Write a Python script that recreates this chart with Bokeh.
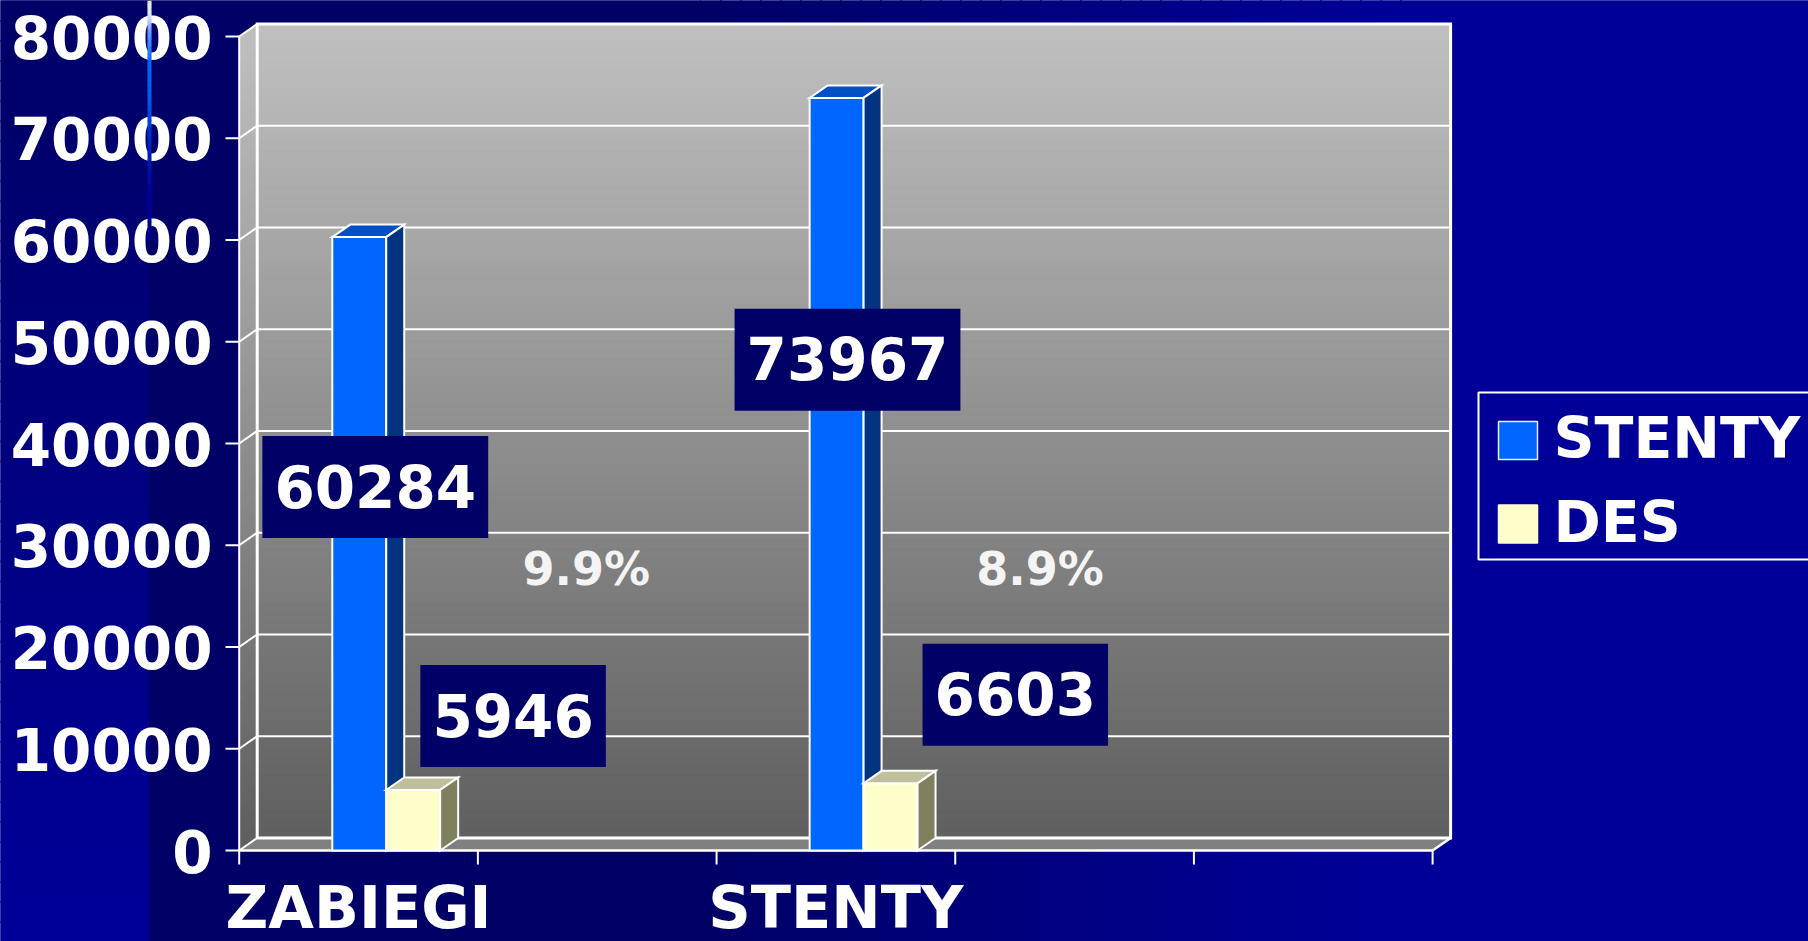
import numpy as np
from bokeh.plotting import figure
from bokeh.models import Range1d
from bokeh.core.properties import value
from bokeh.embed import file_html
from bokeh.resources import INLINE

# ---------------- data ----------------
categories = ["ZABIEGI", "", "STENTY", "", ""]
stenty = [60284, None, 73967, None, None]
des = [5946, None, 6603, None, None]
pct_labels = ["9.9%", "8.9%"]
y_ticks = [0, 10000, 20000, 30000, 40000, 50000, 60000, 70000, 80000]
series_names = ["STENTY", "DES"]
series_colors = ["#0066ff", "#ffffcc"]

# ---------------- layout (page pixels) ----------------
W, H = 1808, 941
X0, CW = 238.7, 238.68          # front axis origin (px), px per category
Y0, K = 850.0, 814.0 / 80000    # floor front line (px), px per unit
DXP, DYP = 18.0, 12.5           # 3-D depth offset (px)
NCAT = len(categories)
YMAX = y_ticks[-1]
FONT = value("DejaVu Sans")
TXT_DY = -1.0                   # text anchor -> visual cap centre correction


def dx(px):
    return px / CW


def dy(px):
    return px / K


def gx(px):
    return (px - X0) / CW


def gy(py):
    return (Y0 - py) / K


DXd, DYd = dx(DXP), dy(DYP)

p = figure(width=W, height=H,
           x_range=Range1d(gx(0), gx(W)),
           y_range=Range1d(gy(H), gy(0)),
           output_backend="svg", toolbar_location=None, title=None,
           x_axis_type=None, y_axis_type=None, min_border=0,
           outline_line_color=None,
           background_fill_color="#000080", border_fill_color="#000080")
p.grid.visible = False


def blue_hex(v):
    v = int(round(v))
    return "#0000%02x" % v


def gray_hex(t):
    t = min(max(t, 0.0), 1.0)
    v = int(round(192 + (95 - 192) * t))
    return "#%02x%02x%02x" % (v, v, v)


# ---------------- background ----------------
# right area: horizontal gradient
xs_edges = np.linspace(700, 1400, 36)
lefts, rights, cols = [gx(148)], [gx(700)], [blue_hex(0x66)]
for a, b in zip(xs_edges[:-1], xs_edges[1:]):
    t = ((a + b) / 2 - 700) / 700
    lefts.append(gx(a)); rights.append(gx(b + 1))
    cols.append(blue_hex(0x66 + (0x99 - 0x66) * t))
lefts.append(gx(1400)); rights.append(gx(1830)); cols.append(blue_hex(0x99))
p.quad(left=lefts, right=rights, bottom=gy(960), top=gy(-20),
       fill_color=cols, line_color=cols, line_width=1)

# left band: vertical gradient
ys_edges = np.linspace(0, 941, 48)
tops, bots, cols = [], [], []
for a, b in zip(ys_edges[:-1], ys_edges[1:]):
    t = ((a + b) / 2) / 941
    tops.append(gy(a)); bots.append(gy(b + 1))
    cols.append(blue_hex(0x66 + (0x99 - 0x66) * t))
p.quad(left=gx(-10), right=gx(148), bottom=bots, top=tops,
       fill_color=cols, line_color=cols, line_width=1)

# ---------------- walls ----------------
TOPB = Y0 - DYP - YMAX * K
BOTB = Y0 - DYP
N = 90
step = (BOTB - TOPB) / N
tops, bots, cols = [], [], []
for i in range(N):
    a = TOPB + i * step
    tops.append(gy(a)); bots.append(gy(min(a + step + 1.0, BOTB)))
    cols.append(gray_hex((i + 0.5) / N))
p.quad(left=DXd, right=NCAT + DXd, bottom=bots, top=tops,
       fill_color=cols, line_color=cols, line_width=1)

# side wall
xs_s, ys_s, cols = [], [], []
NS = 60
for j in range(NS):
    v1 = j * YMAX / NS
    v2 = min((j + 1) * YMAX / NS + 120, YMAX)
    ymid = Y0 - K * (v1 + v2) / 2 - DYP / 2
    xs_s.append([0, DXd, DXd, 0])
    ys_s.append([v1, v1 + DYd, v2 + DYd, v2])
    cols.append(gray_hex((ymid - TOPB) / (BOTB - TOPB)))
p.patches(xs_s, ys_s, fill_color=cols, line_color=cols, line_width=0.5)

# floor
p.patch([0, NCAT, NCAT + DXd, DXd], [0, 0, DYd, DYd],
        fill_color="#808080", line_color=None)

# ---------------- grid / axis lines ----------------
WL = "white"
gv = y_ticks[1:-1]
p.segment(x0=[DXd] * len(gv), x1=[NCAT + DXd] * len(gv),
          y0=[v + DYd for v in gv], y1=[v + DYd for v in gv],
          line_color=WL, line_width=2)
p.segment(x0=[0] * len(y_ticks), x1=[DXd] * len(y_ticks),
          y0=y_ticks, y1=[v + DYd for v in y_ticks],
          line_color=WL, line_width=2)
# back wall frame
p.line([DXd, DXd, NCAT + DXd, NCAT + DXd, DXd],
       [DYd, YMAX + DYd, YMAX + DYd, DYd, DYd],
       line_color=WL, line_width=3, line_join="miter")
# front axis + floor
p.line([0, 0], [0, YMAX], line_color=WL, line_width=2)
p.line([0, NCAT, NCAT + DXd], [0, 0, DYd], line_color=WL, line_width=2.5,
       line_join="miter")
# ticks
p.segment(x0=[gx(225)] * len(y_ticks), x1=[0] * len(y_ticks),
          y0=y_ticks, y1=y_ticks, line_color=WL, line_width=2)
p.segment(x0=list(range(NCAT + 1)), x1=list(range(NCAT + 1)),
          y0=[0] * (NCAT + 1), y1=[gy(864)] * (NCAT + 1),
          line_color=WL, line_width=2)

# ---------------- bars ----------------
BW = 0.226
idx = [i for i, v in enumerate(stenty) if v is not None]
blue_c = [i + 0.503 for i in idx]
yel_c = [c + BW for c in blue_c]
sv = [stenty[i] for i in idx]
dv = [des[i] for i in idx]


def draw_bars(centers, vals, front, topc, sidec, name):
    L = [c - BW / 2 for c in centers]
    R = [c + BW / 2 for c in centers]
    r = p.quad(left=L, right=R, bottom=0, top=vals, fill_color=front,
               line_color="white", line_width=2, line_join="miter",
               name=name)
    p.patches([[l, rr, rr + DXd, l + DXd] for l, rr in zip(L, R)],
              [[v, v, v + DYd, v + DYd] for v in vals],
              fill_color=topc, line_color="white", line_width=2,
              line_join="miter")
    p.patches([[rr, rr + DXd, rr + DXd, rr] for rr in R],
              [[0, DYd, v + DYd, v] for v in vals],
              fill_color=sidec, line_color="white", line_width=2,
              line_join="miter")
    return r


draw_bars(blue_c, sv, series_colors[0], "#004fc4", "#003380", series_names[0])
draw_bars(yel_c, dv, series_colors[1], "#bfbf9c", "#80805f", series_names[1])

# ---------------- data labels ----------------
LBL_FS = 58
DIG = 0.696 * LBL_FS
# label box centres (page px) - manual placement as in the source slide
stenty_lbl_px = [(374.8, 486.6), (847.0, 359.2)]
des_lbl_px = [(512.6, 715.5), (1014.8, 694.2)]
lbl_txt = [str(v) for v in sv] + [str(v) for v in dv]
lbl_pos = stenty_lbl_px + des_lbl_px
bx = [gx(a) for a, b in lbl_pos]
by = [gy(b) for a, b in lbl_pos]
bw = [DIG * len(t) + 24 for t in lbl_txt]
p.rect(x=bx, y=by, width=bw, height=[102] * len(bx),
       width_units="screen", height_units="screen",
       fill_color="#000066", line_color=None)
p.text(x=bx, y=[gy(b + TXT_DY) for a, b in lbl_pos], text=lbl_txt,
       text_align="center", text_baseline="alphabetic",
       text_font=FONT, text_font_style="bold",
       text_font_size=f"{LBL_FS}px", text_color="white")

# percentage notes (share of DES among stents)
pct_px = [(585.9, 569.5), (1039.5, 569.5)]
PFS = 46
p.text(x=[gx(a) for a, b in pct_px],
       y=[gy(b + TXT_DY) for a, b in pct_px],
       text=pct_labels, text_align="center", text_baseline="alphabetic",
       text_font=FONT, text_font_style="bold",
       text_font_size=f"{PFS}px", text_color="#f4f4f4")

# ---------------- axis labels ----------------
p.text(x=[gx(212)] * len(y_ticks), y=[v - dy(1.5 + TXT_DY) for v in y_ticks],
       text=[str(v) for v in y_ticks], text_align="right",
       text_baseline="alphabetic", text_font=FONT, text_font_style="bold",
       text_font_size="58px", text_color="white")
cx = [i + 0.5 for i, c in enumerate(categories) if c]
ct = [c for c in categories if c]
p.text(x=cx, y=[gy(908 + TXT_DY)] * len(cx), text=ct, text_align="center",
       text_baseline="alphabetic", text_font=FONT, text_font_style="bold",
       text_font_size="59px", text_color="white")

# ---------------- legend (drawn) ----------------
p.quad(left=gx(1478), right=gx(1830), top=gy(392), bottom=gy(559),
       fill_color=None, line_color="white", line_width=2)
leg_rows = [440.0, 523.5]          # swatch centres (page y)
leg_text_y = [438.0, 522.0]        # text cap centres (page y)
p.rect(x=[gx(1517.5)] * 2, y=[gy(r) for r in leg_rows],
       width=39, height=38, width_units="screen", height_units="screen",
       fill_color=series_colors, line_color=["#e8f0ff", "#ffffcc"],
       line_width=1.5)
p.text(x=[gx(1553)] * 2, y=[gy(r + TXT_DY) for r in leg_text_y],
       text=series_names, text_align="left", text_baseline="alphabetic",
       text_font=FONT, text_font_style="bold", text_font_size="57px",
       text_color="white")

# ---------------- decorative vertical line ----------------
stops = [(0, (238, 238, 204)), (14, (220, 232, 255)), (32, (102, 153, 255)),
         (60, (0, 102, 255)), (100, (0, 90, 240)), (140, (0, 40, 190)),
         (190, (0, 0, 160)), (240, (0, 0, 140))]
seg_y0, seg_y1, seg_c = [], [], []
for (ya, ca), (yb, cb) in zip(stops[:-1], stops[1:]):
    n = 8
    for k in range(n):
        t = (k + 0.5) / n
        c = tuple(int(round(ca[m] + (cb[m] - ca[m]) * t)) for m in range(3))
        a = ya + (yb - ya) * k / n
        b = ya + (yb - ya) * (k + 1) / n
        seg_y0.append(gy(a)); seg_y1.append(gy(b + 0.5))
        seg_c.append("#%02x%02x%02x" % c)
p.segment(x0=[gx(149)] * len(seg_c), x1=[gx(149)] * len(seg_c),
          y0=seg_y0, y1=seg_y1, line_color=seg_c, line_width=4)

open("out.html", "w").write(file_html(p, INLINE))
